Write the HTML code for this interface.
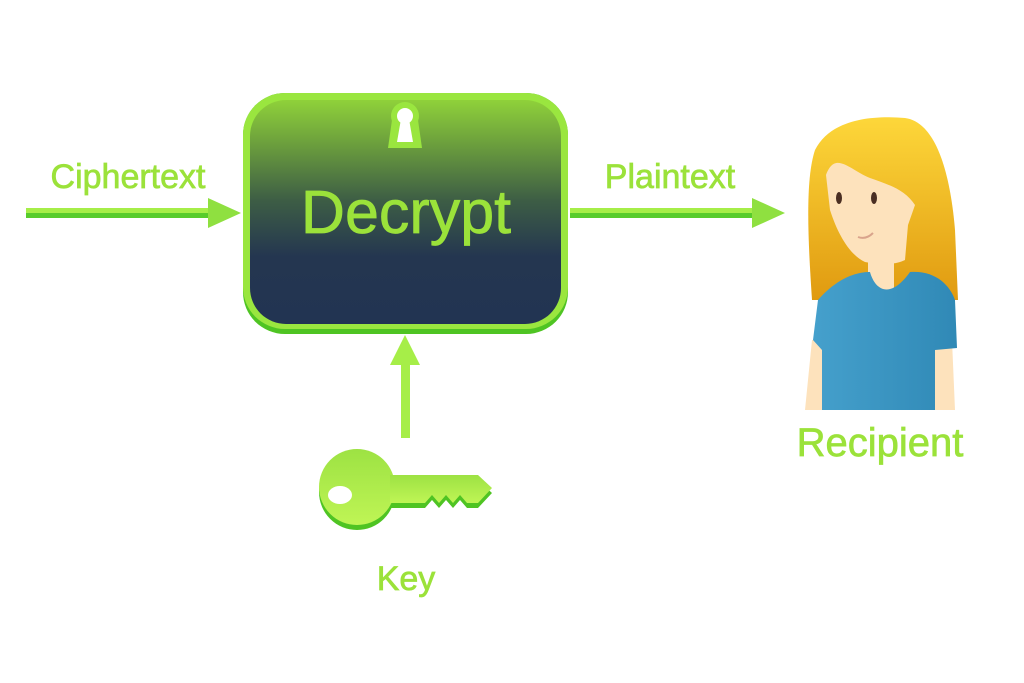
<!DOCTYPE html>
<html><head><style>
html,body{margin:0;padding:0;background:#fff;}
svg{display:block;}
text{font-family:"Liberation Sans",sans-serif;fill:#9be23a;stroke:#9be23a;stroke-width:0.7;}
</style></head><body>
<svg width="1024" height="683" viewBox="0 0 1024 683">
<defs>
<linearGradient id="bx" x1="0" y1="0" x2="0" y2="1">
<stop offset="0" stop-color="#8fd13a"/><stop offset="0.2" stop-color="#6b9e3d"/>
<stop offset="0.45" stop-color="#3d5d45"/><stop offset="0.7" stop-color="#243650"/><stop offset="1" stop-color="#223452"/>
</linearGradient>
<linearGradient id="hair" x1="0" y1="0" x2="0" y2="1"><stop offset="0" stop-color="#fdd73a"/><stop offset="1" stop-color="#e09a10"/></linearGradient>
<linearGradient id="shirt" x1="0" y1="0" x2="1" y2="0"><stop offset="0" stop-color="#45a0cc"/><stop offset="1" stop-color="#3089b6"/></linearGradient>
<linearGradient id="key" x1="0" y1="0" x2="0" y2="1"><stop offset="0" stop-color="#9de243"/><stop offset="1" stop-color="#bff555"/></linearGradient>
</defs>
<rect x="26" y="208" width="186" height="10" fill="#57cc2c"/>
<rect x="26" y="208" width="186" height="5" fill="#a6ee48"/>
<polygon points="208,198 241,213 208,228" fill="#8fe040"/>
<text x="128" y="188" font-size="34" text-anchor="middle">Ciphertext</text>
<rect x="570" y="208" width="186" height="10" fill="#57cc2c"/>
<rect x="570" y="208" width="186" height="5" fill="#a6ee48"/>
<polygon points="752,198 785,213 752,228" fill="#8fe040"/>
<text x="670" y="188" font-size="34" text-anchor="middle">Plaintext</text>
<rect x="243" y="93" width="325" height="241" rx="42" fill="#4fc423"/>
<rect x="243" y="93" width="325" height="236" rx="42" fill="#9ae63f"/>
<rect x="250" y="100" width="311" height="224" rx="36" fill="url(#bx)"/>
<circle cx="405" cy="116" r="14" fill="#9ae63f"/>
<polygon points="392,120 418,120 422,148 388,148" fill="#9ae63f"/>
<circle cx="405" cy="116" r="8" fill="#fff"/>
<polygon points="401,119 409,119 413,142 397,142" fill="#fff"/>
<text x="406" y="233" font-size="61" text-anchor="middle">Decrypt</text>
<rect x="401" y="362" width="9" height="76" fill="#a6ee48"/>
<polygon points="390,365 405,335 420,365" fill="#a6ee48"/>
<g transform="translate(0,5)">
<circle cx="357" cy="487" r="38" fill="#4fc423"/>
<path d="M390,475 L478,475 L492,488 L478,503 L467,503 L460,495 L453,503 L446,495 L439,503 L432,495 L425,503 L390,503Z" fill="#4fc423"/>
</g>
<circle cx="357" cy="487" r="38" fill="url(#key)"/>
<path d="M390,475 L478,475 L492,488 L478,503 L467,503 L460,495 L453,503 L446,495 L439,503 L432,495 L425,503 L390,503Z" fill="url(#key)"/>
<ellipse cx="340" cy="495" rx="12" ry="9" fill="#fff"/>
<text x="406" y="590" font-size="34" text-anchor="middle">Key</text>
<path d="M812,300 C808,240 805,180 815,150 C830,120 870,115 905,118 C935,122 950,170 955,230 L958,300 Z" fill="url(#hair)"/>
<path d="M826,175 C835,150 850,170 870,178 C890,185 905,190 915,205 L908,225 L905,260 C895,265 880,265 865,262 C850,255 838,235 830,210 Z" fill="#fde2bc"/>
<rect x="868" y="250" width="26" height="40" fill="#fde2bc"/>
<ellipse cx="839" cy="198" rx="3" ry="6" fill="#4a2e22"/>
<ellipse cx="874" cy="198" rx="3" ry="6" fill="#4a2e22"/>
<path d="M858,237 Q866,240 873,233" stroke="#d9a48c" stroke-width="2" fill="none"/>
<path d="M805,410 L812,340 L830,340 L828,410Z" fill="#fde2bc"/>
<path d="M935,340 L952,340 L955,410 L935,410Z" fill="#fde2bc"/>
<path d="M818,300 C840,275 860,272 870,272 C875,290 890,300 910,272 C935,270 950,285 955,300 L957,348 L935,350 L935,410 L822,410 L822,350 L813,340 Z" fill="url(#shirt)"/>
<text x="880" y="456" font-size="40" text-anchor="middle">Recipient</text>
</svg>
</body></html>
